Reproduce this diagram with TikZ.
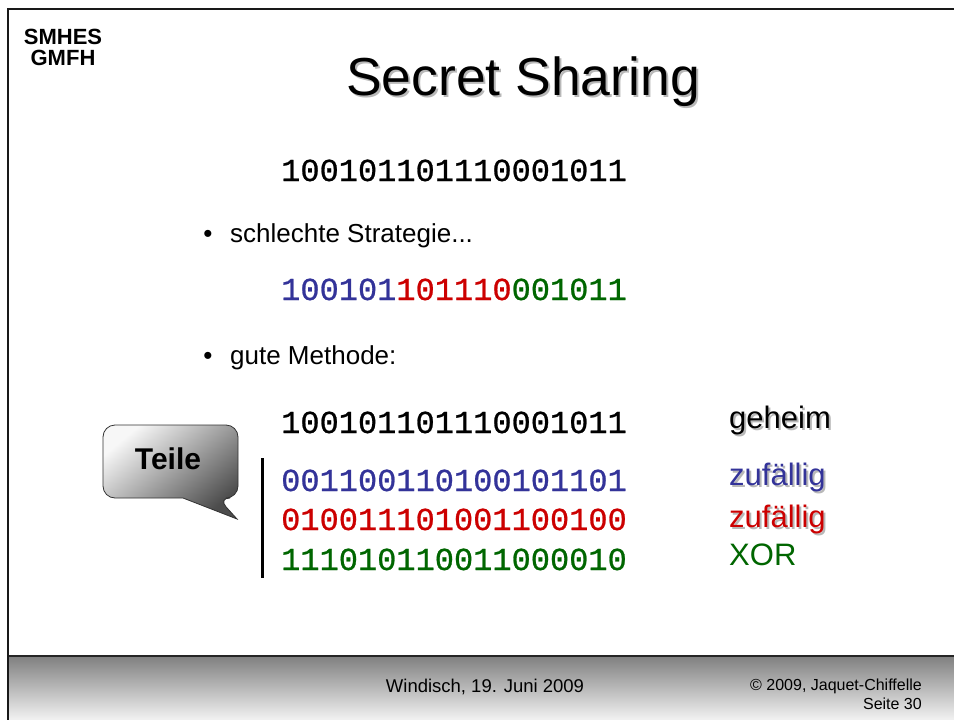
\documentclass[tikz,border=0pt]{standalone}
\usepackage{fontspec}
\setmainfont{Liberation Sans}
\newfontfamily\bitfont[FakeBold=0.8]{Liberation Mono}
\definecolor{shareblue}{HTML}{333399}
\definecolor{sharered}{HTML}{CC0000}
\definecolor{sharegreen}{HTML}{006600}
\definecolor{shadowgray}{HTML}{B8B8B8}

\begin{document}
\begin{tikzpicture}[x=1pt,y=-1pt,
  txt/.style={inner sep=0pt, anchor=base west},
  bits/.style={txt, font=\bitfont\fontsize{32}{32}\selectfont},
  bodytext/.style={txt, font=\fontsize{26}{26}\selectfont},
  label/.style={txt, font=\fontsize{31}{31}\selectfont},
  shadowed/.style={txt, text=shadowgray},
  logo/.style={inner sep=0pt, anchor=base, font=\bfseries\fontsize{22}{22}\selectfont},
  footer/.style={inner sep=0pt, font=\fontsize{16}{16}\selectfont}]

\useasboundingbox (0,0) rectangle (954,720);
\fill[white] (0,0) rectangle (954,720);

% footer band
\shade[top color=black!50, bottom color=black!5] (8,656) rectangle (954,720);
\draw[line width=1.5pt, black!85] (8,656) -- (954,656);

% slide frame
\draw[line width=2.5pt, black!90] (8,720) -- (8,9) -- (954,9);

% logo
\node[logo] (logo1) at (63,45) {SMHES};
\node[logo] (logo2) at (63,65) {GMFH};

% title with drop shadow
\node[inner sep=0pt, anchor=base, text=shadowgray, font=\fontsize{53.5}{53.5}\selectfont] (title-s) at (525,97) {Secret Sharing};
\node[inner sep=0pt, anchor=base, font=\fontsize{53.5}{53.5}\selectfont] (title) at (523,95) {Secret Sharing};

% secret bit string
\node[bits] (secret1) at (281,181) {100101101110001011};

% bullet 1
\node[bodytext, anchor=base] (bullet1) at (208,242) {•};
\node[bodytext] (bad) at (230,242) {schlechte Strategie...};

\node[bits] (split) at (281,300) {\textcolor{shareblue}{100101}\textcolor{sharered}{101110}\textcolor{sharegreen}{001011}};

% bullet 2
\node[bodytext, anchor=base] (bullet2) at (208,364) {•};
\node[bodytext] (good) at (230,364) {gute Methode:};

% shares
\node[bits] (secret2) at (281,433) {100101101110001011};
\node[bits, text=shareblue] (share1) at (281,491) {001100110100101101};
\node[bits, text=sharered] (share2) at (281,530) {010011101001100100};
\node[bits, text=sharegreen] (share3) at (281,570) {111010110011000010};

% labels with drop shadow
\node[label, shadowed] (lab0-s) at (731,430) {geheim};
\node[label] (lab0) at (729,428) {geheim};
\node[label, shadowed] (lab1-s) at (731,487) {zufällig};
\node[label, text=shareblue] (lab1) at (729,485) {zufällig};
\node[label, shadowed] (lab2-s) at (731,529) {zufällig};
\node[label, text=sharered] (lab2) at (729,527) {zufällig};
\node[label, text=sharegreen] (lab3) at (729,565) {XOR};

% bracket line in front of the shares
\coordinate (brtop) at (262,458);
\coordinate (brbot) at (262,578);
\draw[line width=3pt] (brtop) -- (brbot);

% speech bubble: rounded box with a pointed tail at the lower right
\path[draw=black!80, line width=0.8pt, top color=black!3, bottom color=black!70, shading angle=40]
  (237,519) -- (183,498) [rounded corners=12pt] -- (103,498) -- (103,425)
  -- (238,425) -- (238,498) -- (218,498) [sharp corners] -- cycle;
\node[inner sep=0pt, anchor=base, font=\bfseries\fontsize{30}{30}\selectfont] (teile) at (168,469) {Teile};

% footer texts
\node[footer, anchor=base, font=\fontsize{18.5}{18.5}\selectfont] (place) at (485,692) {Windisch, 19. Juni 2009};
\node[footer, anchor=base east] (copy) at (922,690) {© 2009, Jaquet-Chiffelle};
\node[footer, anchor=base east] (page) at (922,709) {Seite 30};
\end{tikzpicture}
\end{document}
